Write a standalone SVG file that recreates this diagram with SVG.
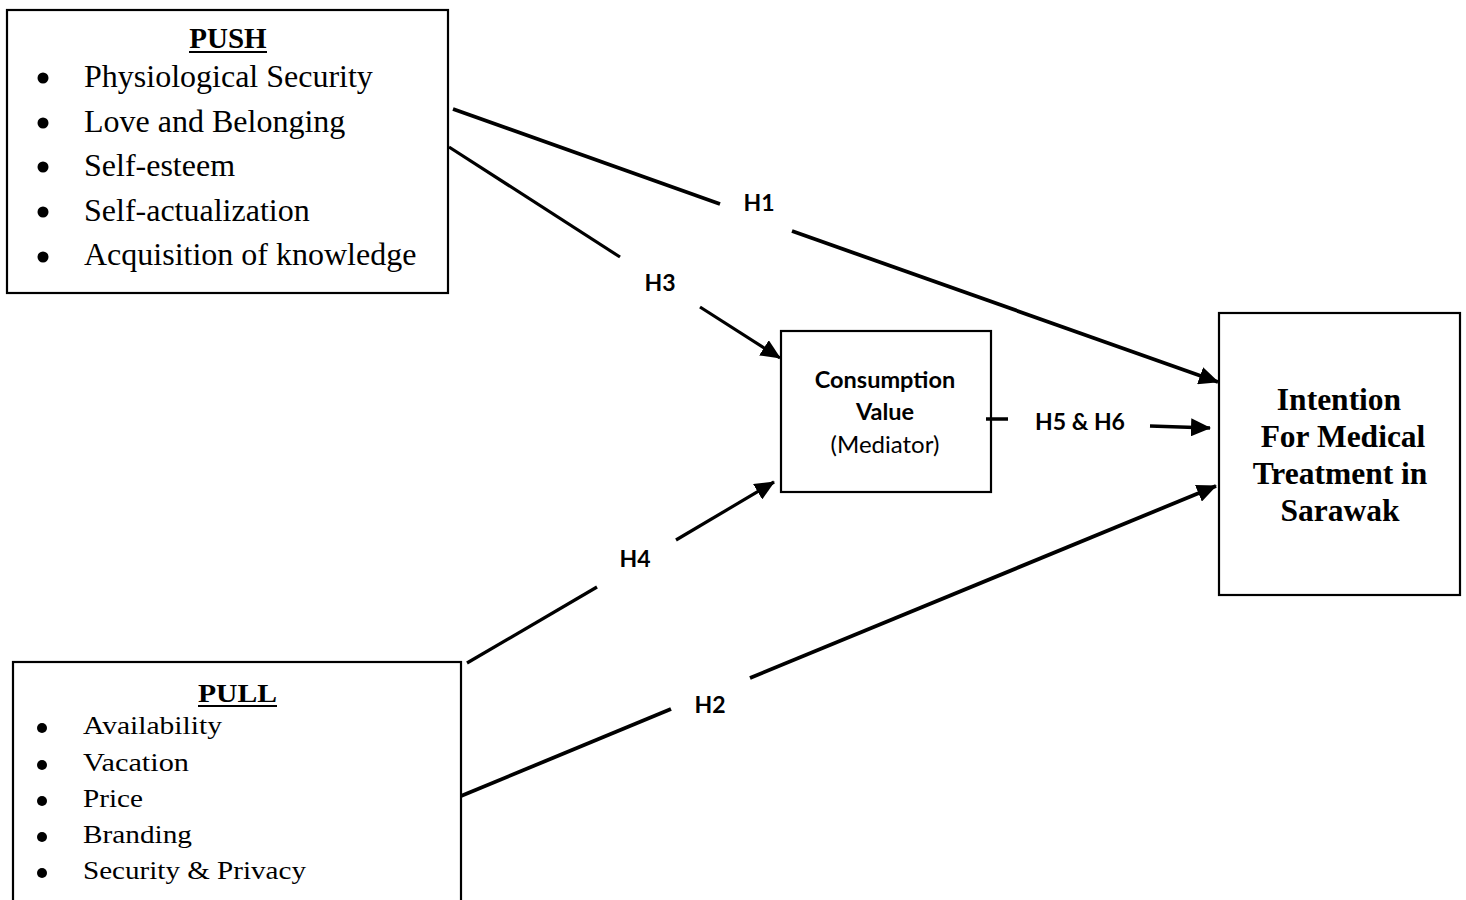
<svg xmlns="http://www.w3.org/2000/svg" width="1466" height="900" viewBox="0 0 1466 900">
<style>
.box{fill:#fff;stroke:#000;stroke-width:2.2}
.serif{font-family:"Liberation Serif","Times New Roman",serif;fill:#000}
.sans{font-family:Lato,"Open Sans","Liberation Sans",sans-serif;fill:#000}
.conn{stroke:#000;fill:none;stroke-linecap:butt}
.lbl{font-family:Lato,"Open Sans","Liberation Sans",sans-serif;font-weight:bold;font-size:23px;fill:#000;text-anchor:middle}
</style>
<defs>
<marker id="ah" markerUnits="userSpaceOnUse" markerWidth="22" markerHeight="18" refX="19" refY="9" orient="auto">
<path d="M0,0 L20,9 L0,18 Z" fill="#000"/>
</marker>
</defs>
<rect width="1466" height="900" fill="#fff"/>

<g id="push">
<rect class="box" x="7" y="10" width="441" height="283"/>
<text class="serif" x="228" y="48" font-size="29" font-weight="bold" text-anchor="middle">PUSH</text>
<line x1="189" y1="52" x2="267" y2="52" stroke="#000" stroke-width="2"/>
<g fill="#000">
<circle cx="43" cy="78" r="5.5"/><circle cx="43" cy="123" r="5.5"/><circle cx="43" cy="167" r="5.5"/><circle cx="43" cy="212" r="5.5"/><circle cx="43" cy="257" r="5.5"/>
</g>
<g class="serif" font-size="32">
<text x="84" y="87">Physiological Security</text>
<text x="84" y="131.5">Love and Belonging</text>
<text x="84" y="176">Self-esteem</text>
<text x="84" y="220.5">Self-actualization</text>
<text x="84" y="265">Acquisition of knowledge</text>
</g>
</g>

<g id="pull">
<rect class="box" x="13" y="662" width="448" height="250"/>
<text class="serif" x="198" y="702" font-size="26" font-weight="bold" textLength="79" lengthAdjust="spacingAndGlyphs">PULL</text>
<line x1="198" y1="706" x2="277" y2="706" stroke="#000" stroke-width="2"/>
<g fill="#000">
<circle cx="42" cy="728" r="5"/><circle cx="42" cy="765" r="5"/><circle cx="42" cy="801" r="5"/><circle cx="42" cy="837" r="5"/><circle cx="42" cy="873" r="5"/>
</g>
<g class="serif" font-size="25">
<text x="83" y="734" textLength="139" lengthAdjust="spacingAndGlyphs">Availability</text>
<text x="83" y="771" textLength="106" lengthAdjust="spacingAndGlyphs">Vacation</text>
<text x="83" y="807" textLength="60" lengthAdjust="spacingAndGlyphs">Price</text>
<text x="83" y="843" textLength="109" lengthAdjust="spacingAndGlyphs">Branding</text>
<text x="83" y="879" textLength="223" lengthAdjust="spacingAndGlyphs">Security &amp; Privacy</text>
</g>
</g>

<g id="mediator">
<rect class="box" x="781" y="331" width="210" height="161"/>
<text class="sans" x="885" y="388" font-size="23.5" font-weight="bold" text-anchor="middle">Consumption</text>
<text class="sans" x="885" y="420" font-size="23.5" font-weight="bold" text-anchor="middle">Value</text>
<text class="sans" x="885" y="453" font-size="24" text-anchor="middle">(Mediator)</text>
</g>

<g id="intention">
<rect class="box" x="1219" y="313" width="241" height="282"/>
<g class="serif" font-size="31.5" font-weight="bold" text-anchor="middle">
<text x="1339" y="410">Intention</text>
<text x="1343" y="447">For Medical</text>
<text x="1340" y="484">Treatment in</text>
<text x="1340" y="521">Sarawak</text>
</g>
</g>

<g id="connectors">
<line class="conn" x1="453" y1="109" x2="720" y2="204" stroke-width="3.8"/>
<line class="conn" x1="792" y1="231" x2="1218" y2="382" stroke-width="3.8" marker-end="url(#ah)"/>
<line class="conn" x1="449" y1="147" x2="620" y2="257" stroke-width="3.2"/>
<line class="conn" x1="700" y1="307" x2="780" y2="358" stroke-width="3.2" marker-end="url(#ah)"/>
<line class="conn" x1="467" y1="663" x2="597" y2="587" stroke-width="3.2"/>
<line class="conn" x1="676" y1="540" x2="774" y2="482" stroke-width="3.2" marker-end="url(#ah)"/>
<line class="conn" x1="461" y1="796" x2="671" y2="709" stroke-width="3.8"/>
<line class="conn" x1="750" y1="678" x2="1216" y2="486" stroke-width="3.8" marker-end="url(#ah)"/>
<line class="conn" x1="986" y1="419" x2="1008" y2="419" stroke-width="3.5"/>
<line class="conn" x1="1150" y1="426" x2="1210" y2="428" stroke-width="3.5" marker-end="url(#ah)"/>
</g>

<g id="labels">
<text class="lbl" x="759" y="211">H1</text>
<text class="lbl" x="660" y="291">H3</text>
<text class="lbl" x="635" y="567">H4</text>
<text class="lbl" x="710" y="713">H2</text>
<text class="lbl" x="1080" y="430">H5 &amp; H6</text>
</g>
</svg>
